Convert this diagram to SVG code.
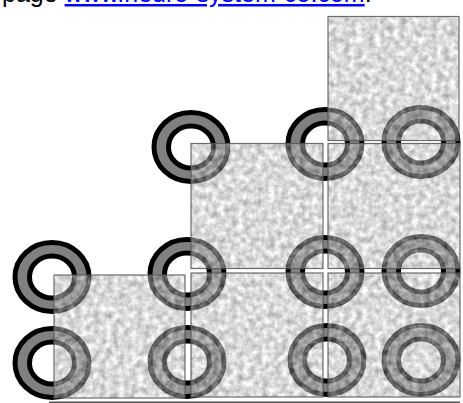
<svg xmlns="http://www.w3.org/2000/svg" width="463" height="403" viewBox="0 0 463 403">
<style>
.txt{font-family:"Liberation Sans","Open Sans",sans-serif;font-size:25px;fill:#000}
.lnk{fill:#0000ff;text-decoration:underline}
.o{fill:#808080;stroke:#000;stroke-width:5}
.i{fill:#fff;stroke:#000;stroke-width:5}
.sq{filter:url(#noise);fill:#ccc;opacity:.52}
.edge{fill:none;stroke:#555;stroke-width:1.2;opacity:.85}
</style>
<defs>
<filter id="noise" x="0" y="0" width="100%" height="100%" color-interpolation-filters="sRGB">
<feTurbulence type="fractalNoise" baseFrequency="0.16" numOctaves="3" seed="4"/>
<feColorMatrix type="matrix" values="0 0 0 0.95 0.25  0 0 0 0.95 0.25  0 0 0 0.95 0.25  0 0 0 0 1" result="gray"/>
<feGaussianBlur in="gray" stdDeviation="0.7" result="soft"/>
<feComposite in="soft" in2="SourceGraphic" operator="in"/>
</filter>
<g id="ring"><ellipse class="o" rx="37" ry="34.500"/><ellipse class="i" rx="22.500" ry="21"/></g>
</defs>
<text class="txt" x="2" y="2">page <tspan class="lnk">www.neuro-system-co.com</tspan>.</text>
<g id="rings">
<use id="r1" href="#ring" x="191" y="147"/>
<use id="r2" href="#ring" x="325" y="144"/>
<use id="r3" href="#ring" x="421" y="142"/>
<use id="r4" href="#ring" x="52" y="277"/>
<use id="r5" href="#ring" x="187" y="274"/>
<use id="r6" href="#ring" x="325" y="272"/>
<use id="r7" href="#ring" x="421" y="271"/>
<use id="r8" href="#ring" x="52" y="363"/>
<use id="r9" href="#ring" x="187" y="362"/>
<use id="r10" href="#ring" x="327" y="360"/>
<use id="r11" href="#ring" x="421" y="360"/>
</g>
<g id="squares">
<rect class="sq" x="328" y="16.500" width="131" height="124"/><rect class="edge" x="328" y="16.500" width="131" height="124"/>
<rect class="sq" x="191" y="143.500" width="132" height="125"/><rect class="edge" x="191" y="143.500" width="132" height="125"/>
<rect class="sq" x="328" y="143.500" width="132" height="125"/><rect class="edge" x="328" y="143.500" width="132" height="125"/>
<rect class="sq" x="54" y="275" width="131" height="123"/><rect class="edge" x="54" y="275" width="131" height="123"/>
<rect class="sq" x="191" y="273" width="132" height="124"/><rect class="edge" x="191" y="273" width="132" height="124"/>
<rect class="sq" x="328" y="273" width="132" height="124"/><rect class="edge" x="328" y="273" width="132" height="124"/>
</g>
<g id="connectors"><path d="M49 402.300H460" stroke="#555" stroke-width="1.400" fill="none"/></g>
</svg>
